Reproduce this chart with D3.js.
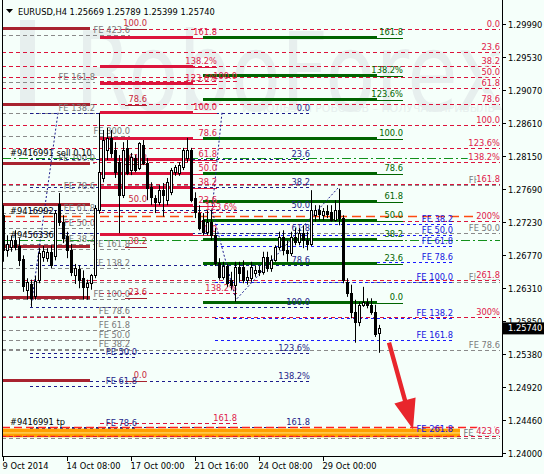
<!DOCTYPE html>
<html><head><meta charset="utf-8">
<script src="https://cdn.jsdelivr.net/npm/d3@7"></script>
<style>
html,body{margin:0;padding:0;background:#f5fffa;}
svg{display:block;}
</style></head><body>
<svg id="c" width="544" height="474"></svg>
<script>
// ---------------- DATA ----------------
const symbolTitle = "EURUSD,H4";
const open = [
1.2732,1.2683,1.2688,1.2697,1.2689,1.2671,1.2628,1.2636,1.2619,1.2642,
1.2674,1.2672,1.2681,1.2675,1.2748,1.2723,1.2703,1.2683,1.2649,1.2657,
1.2644,1.2632,1.2637,1.2649,1.2739,1.2784,1.2823,1.2840,1.2823,1.2806,
1.2760,1.2826,1.2795,1.2812,1.2798,1.2830,1.2805,1.2771,1.2756,1.2750,
1.2767,1.2753,1.2764,1.2792,1.2791,1.2799,1.2812,1.2823,1.2756,1.2735,
1.2725,1.2709,1.2723,1.2704,1.2665,1.2646,1.2661,1.2642,1.2635,1.2660,
1.2660,1.2642,1.2644,1.2651,1.2655,1.2653,1.2674,1.2658,1.2669,1.2688,
1.2702,1.2683,1.2679,1.2702,1.2695,1.2707,1.2697,1.2692,1.2732,1.2739,
1.2732,1.2738,1.2737,1.2725,1.2739,1.2728,1.2639,1.2623,1.2597,1.2583,
1.2607,1.2611,1.2607,1.2597,1.25669];
const high = [
1.2746,1.2704,1.2703,1.2711,1.2700,1.2676,1.2644,1.2642,1.2647,1.2686,
1.2689,1.2686,1.2690,1.2739,1.2763,1.2732,1.2709,1.2692,1.2664,1.2662,
1.2655,1.2642,1.2650,1.2746,1.2875,1.2851,1.2854,1.2851,1.2834,1.2816,
1.2834,1.2837,1.2819,1.2816,1.2834,1.2837,1.2812,1.2778,1.2760,1.2774,
1.2777,1.2784,1.2798,1.2802,1.2806,1.2826,1.2840,1.2826,1.2764,1.2746,
1.2735,1.2739,1.2739,1.2714,1.2672,1.2667,1.2664,1.2653,1.2667,1.2667,
1.2669,1.2655,1.2667,1.2662,1.2661,1.2681,1.2681,1.2676,1.2690,1.2709,
1.2711,1.2697,1.2709,1.2714,1.2714,1.2718,1.2709,1.2767,1.2746,1.2746,
1.2742,1.2746,1.2746,1.2753,1.2769,1.2732,1.2644,1.2635,1.2614,1.2611,
1.2632,1.2616,1.2616,1.2607,1.25789];
const low = [
1.2667,1.2674,1.2681,1.2683,1.2661,1.2625,1.2614,1.2604,1.2614,1.2637,
1.2667,1.2667,1.2658,1.2669,1.2717,1.2693,1.2672,1.2647,1.2636,1.2630,
1.2614,1.2614,1.2628,1.2644,1.2734,1.2778,1.2809,1.2812,1.2784,1.2707,
1.2756,1.2788,1.2788,1.2792,1.2795,1.2802,1.2753,1.2746,1.2735,1.2746,
1.2730,1.2746,1.2760,1.2787,1.2787,1.2795,1.2806,1.2750,1.2728,1.2711,
1.2704,1.2704,1.2697,1.2661,1.2642,1.2642,1.2632,1.2628,1.2611,1.2639,
1.2637,1.2635,1.2639,1.2646,1.2647,1.2649,1.2653,1.2653,1.2667,1.2683,
1.2676,1.2667,1.2675,1.2690,1.2690,1.2686,1.2683,1.2689,1.2723,1.2725,
1.2725,1.2728,1.2723,1.2723,1.2718,1.2637,1.2618,1.2588,1.2554,1.2577,
1.2604,1.2602,1.2593,1.2562,1.25399];
const close = [
1.2683,1.2692,1.2697,1.2688,1.2669,1.2633,1.2639,1.2616,1.2640,1.2679,
1.2682,1.2681,1.2662,1.2735,1.2723,1.2700,1.2683,1.2653,1.2658,1.2642,
1.2632,1.2637,1.2649,1.2742,1.2792,1.2837,1.2840,1.2819,1.2792,1.2760,
1.2823,1.2791,1.2813,1.2795,1.2833,1.2805,1.2770,1.2757,1.2750,1.2767,
1.2760,1.2778,1.2795,1.2799,1.2802,1.2823,1.2823,1.2753,1.2737,1.2714,
1.2709,1.2723,1.2704,1.2665,1.2646,1.2661,1.2637,1.2635,1.2660,1.2651,
1.2642,1.2646,1.2660,1.2655,1.2653,1.2674,1.2658,1.2669,1.2688,1.2702,
1.2683,1.2679,1.2702,1.2695,1.2707,1.2697,1.2692,1.2739,1.2739,1.2734,
1.2738,1.2734,1.2725,1.2739,1.2728,1.2642,1.2623,1.2597,1.2583,1.2607,
1.2611,1.2607,1.2597,1.2566,1.25740];

const priceTicks = [1.29990,1.29530,1.29070,1.28610,1.28150,1.27690,1.27230,1.26770,1.26310,1.25850,1.25380,1.24920,1.24460,1.24000];
const timeTickBars = [0,16,32,48,64,80];
const timeTickLabels = ["9 Oct 2014","14 Oct 08:00","17 Oct 00:00","21 Oct 16:00","24 Oct 08:00","29 Oct 00:00"];

// Fibonacci tools: [price at 0%, price at 100%], levels, labels, bar span
const crimsonFiboPrices = [1.2992, 1.2858];
const crimsonFiboLevels = [0,23.6,38.2,50,61.8,78.6,100,123.6,138.2,161.8,200,261.8,300,423.6];
const crimsonFiboLabels = ["0.0","23.6","38.2","50.0","61.8","78.6","100.0","123.6%","138.2%","161.8","200%","261.8","300%","423.6"];
const crimsonFiboBars = [-0.25, 124.25];

const redFiboPrices = [1.2706, 1.2876];
const redFiboLevels = [0,23.6,38.2,50,61.8,78.6,100,123.6,138.2,161.8];
const redFiboLabels = ["0.0","23.6","38.2","50.0","61.8","78.6","100.0","123.6%","138.2%","161.8"];
const redFiboBars = [24.25, 47.5, 47.5, 53.5];

const redExtPrices = [1.3692, 1.2919];
const redExtLevels = [100,123.6,138.2,161.8];
const redExtLabels = ["100.0","123.6%","138.2%","161.8"];
const redExtBars = [24.25, 58.5];

const brownFiboPrices = [1.2502, 1.2993];
const brownFiboLevels = [0,23.6,38.2,50,61.8,78.6,100];
const brownFiboLabels = ["0.0","23.6","38.2","50.0","61.8","78.6","100.0"];
const brownFiboBars = [-0.25, 21.75, 30.5, 36];

const navyFiboPrices = [1.2875, 1.2604];
const navyFiboLevels = [0,23.6,38.2,50,61.8,78.6,100,123.6,138.2,161.8];
const navyFiboLabels = ["0.0","23.6","38.2","50.0","61.8","78.6","100.0","123.6%","138.2%","161.8"];
const navyFiboBars = [6.75, 76.75];

const greenFiboPrices = [1.2611, 1.2840];
const greenFiboLevels = [0,23.6,38.2,50,61.8,78.6,100,123.6,138.2,161.8];
const greenFiboLabels = ["0.0","23.6","38.2","50.0","61.8","78.6","100.0","123.6%","138.2%","161.8"];
const greenFiboBars = [50, 93.5, 93.5, 100];

// Fibonacci expansions
const grayFe1Prices = [1.2622, 1.2805];
const grayFe1Levels = [38.2,50,61.8,78.6,100,138.2,161.8];
const grayFe1Bars = [-0.25, 23];
const grayFe2Prices = [1.2501, 1.2615];
const grayFe2Levels = [38.2,50,61.8,78.6,100,138.2,161.8,300,423.6];
const grayFe2Bars = [-0.25, 31.75];
const grayFe3Prices = [1.2992, 1.2421];
const grayFe3Levels = [38.2,50,61.8,78.6,100];
const grayFe3Bars = [-0.25, 124.25];
const blueFePrices = [1.2770, 1.2639];
const blueFeLevels = [38.2,50,61.8,78.6,100,138.2,161.8,261.8];
const blueFeBars = [53, 112.5];
const navyFePrices = [1.2707, 1.2361];
const navyFeLevels = [50,61.8,78.6];
const navyFeBars = [6.75, 33.5];

// order lines
const orderPrices = [1.2812, 1.2731, 1.2697, 1.2436];
const orderLabels = ["#9416991 sell 0.10", "#9416992", "#9456336", "#9416991 tp"];
const orderKinds = ["entry", "pending", "entry", "tp"];
const zonePrices = [1.2422, 1.2434];
const zoneBars = [-0.25, 114.25];

// tool trend lines [bar, price]
const trendA = [[13.75,1.2875],[7,1.2604]];
const trendB = [[54.75,1.2875],[52.25,1.2739],[58.25,1.2614],[83.75,1.2770]];
const arrowFrom = [96.5, 1.2554];
const arrowTo = [102.5, 1.2433];

// ---------------- DRAW ----------------
const FONT = "DejaVu Sans";
const FS = 8.3;
const bg = "#f5fffa";
const svg = d3.select("#c").attr("font-family", FONT);
svg.append("rect").attr("width",544).attr("height",474).attr("fill",bg);

const x = d3.scaleLinear().domain([0,124.75]).range([3,502]);
const y = d3.scaleLinear().domain([1.24000,1.29990]).range([453,24]);
const py = p => Math.round(y(p)) + 0.5;
const lvl = (a, L) => a[0] + (a[1]-a[0]) * L / 100;

// watermark
const wm = svg.append("g").attr("fill","#e7efee");
wm.append("rect").attr("x",20).attr("y",20).attr("width",15).attr("height",90);
wm.append("text").attr("x",75).attr("y",110).attr("font-size",108).attr("font-family",FONT)
  .attr("textLength",430).attr("lengthAdjust","spacingAndGlyphs").text("RoboForex");
wm.append("text").attr("x",242).attr("y",112).attr("font-size",11).attr("font-family",FONT)
  .attr("textLength",253).attr("lengthAdjust","spacingAndGlyphs").text("ИСПОЛЬЗУЙ РОБОТОВ – ПОЛУЧАЙ ПРИБЫЛЬ");

const gLines = svg.append("g");
const gLabels = svg.append("g").attr("font-size",FS);

function thinTool(anchor, levels, labels, bars, color, dash, labelColor, halo){
  levels.forEach((L,k)=>{
    const yy = py(lvl(anchor,L));
    gLines.append("line").attr("x1",x(bars[0])).attr("x2",x(bars[1])).attr("y1",yy).attr("y2",yy)
      .attr("stroke",color).attr("stroke-width",1).attr("stroke-dasharray",dash);
    if (labels) {
      const t = gLabels.append("text").attr("x",x(bars[1])).attr("y",yy-2.5).attr("text-anchor","end")
        .attr("fill",labelColor).text(labels[k]);
      if (halo) t.attr("stroke",bg).attr("stroke-width",3).attr("paint-order","stroke");
    }
  });
}
function thickTool(anchor, levels, labels, bars, color, labelColor){
  levels.forEach((L,k)=>{
    const yy = py(lvl(anchor,L));
    gLines.append("line").attr("x1",x(bars[0])).attr("x2",x(bars[1])).attr("y1",yy).attr("y2",yy)
      .attr("stroke",color).attr("stroke-width",3);
    gLines.append("line").attr("x1",x(bars[2])).attr("x2",x(bars[3])).attr("y1",yy+1).attr("y2",yy+1)
      .attr("stroke",color).attr("stroke-width",1);
    gLabels.append("text").attr("x",x(bars[3])).attr("y",yy-2.5).attr("text-anchor","end")
      .attr("fill",labelColor).text(labels[k]);
  });
}
const feLabels = lv => lv.map(L => "FE " + L.toFixed(1));

thinTool(grayFe3Prices, grayFe3Levels, feLabels(grayFe3Levels), grayFe3Bars, "#8a8a8a", "4,3", "#7a7a7a");
thinTool(grayFe2Prices, grayFe2Levels, feLabels(grayFe2Levels), grayFe2Bars, "#8a8a8a", "4,3", "#7a7a7a");
thinTool(grayFe1Prices, grayFe1Levels, feLabels(grayFe1Levels), grayFe1Bars, "#8a8a8a", "4,3", "#7a7a7a");
thinTool(navyFiboPrices, navyFiboLevels, navyFiboLabels, navyFiboBars, "#1c1c8c", "3,3", "#24248a");
thinTool(navyFePrices, navyFeLevels, feLabels(navyFeLevels), navyFeBars, "#1c1c8c", "3,3", "#24248a");
thinTool(blueFePrices, blueFeLevels, feLabels(blueFeLevels), blueFeBars, "#1a1aff", "3,3", "#1515e0");
thinTool(redExtPrices, redExtLevels, redExtLabels, redExtBars, "#dc143c", "4,3", "#e0204a");

orderPrices.forEach((p,k)=>{
  const yy = py(p), kind = orderKinds[k];
  const col = kind==="entry" ? "#12901a" : kind==="pending" ? "#ff4a10" : "#ff2020";
  const dash = kind==="entry" ? "9,3,2,3" : kind==="pending" ? "9,5" : "8,4";
  gLines.append("line").attr("x1",x(-0.25)).attr("x2",x(124.25)).attr("y1",yy).attr("y2",yy)
    .attr("stroke",col).attr("stroke-width", kind==="entry"?1:1.5).attr("stroke-dasharray",dash);
  gLabels.append("text").attr("x",x(1.75)).attr("y",yy-2.5).attr("fill","#000").text(orderLabels[k]);
});

const zTop = y(zonePrices[1]), zBot = y(zonePrices[0]);
gLines.append("rect").attr("x",x(zoneBars[0])).attr("width",x(zoneBars[1])-x(zoneBars[0]))
  .attr("y",zTop).attr("height",zBot-zTop).attr("fill","#ffa000");
gLines.append("line").attr("x1",x(zoneBars[0])).attr("x2",x(zoneBars[1])).attr("y1",(zTop+zBot)/2).attr("y2",(zTop+zBot)/2)
  .attr("stroke","#ffe680").attr("stroke-width",1);
gLines.append("line").attr("x1",x(zoneBars[0])).attr("x2",x(zoneBars[1])).attr("y1",zBot-1).attr("y2",zBot-1)
  .attr("stroke","#ff3000").attr("stroke-width",1).attr("stroke-dasharray","8,4");

thinTool(crimsonFiboPrices, crimsonFiboLevels, crimsonFiboLabels, crimsonFiboBars, "#dc143c", "4,3", "#e0204a", true);

thickTool(brownFiboPrices, brownFiboLevels, brownFiboLabels, brownFiboBars, "#a8232f", "#c8283c");
thickTool(redFiboPrices, redFiboLevels, redFiboLabels, redFiboBars, "#dc143c", "#e0204a");
thickTool(greenFiboPrices, greenFiboLevels, greenFiboLabels, greenFiboBars, "#006400", "#006400");

const ln = d3.line().x(d=>x(d[0])).y(d=>y(d[1]));
[trendA, trendB].forEach(t=>{
  gLines.append("path").attr("d",ln(t)).attr("fill","none").attr("stroke","#1c1c8c")
    .attr("stroke-width",1).attr("stroke-dasharray","2,2");
});

const gC = svg.append("g");
open.forEach((o,i)=>{
  const cx = Math.round(x(i)) + 0.5;
  const up = close[i] >= open[i];
  gC.append("line").attr("x1",cx).attr("x2",cx).attr("y1",y(high[i])).attr("y2",y(low[i]))
    .attr("stroke","#000").attr("stroke-width",1);
  const yt = Math.round(y(Math.max(o,close[i]))), yb = Math.round(y(Math.min(o,close[i])));
  if (up) {
    gC.append("rect").attr("x",cx-1).attr("y",yt+0.5).attr("width",2).attr("height",Math.max(1,yb-yt))
      .attr("fill","#fff").attr("stroke","#000").attr("stroke-width",1);
  } else {
    gC.append("rect").attr("x",cx-1.5).attr("y",yt).attr("width",3).attr("height",Math.max(1,yb-yt+1))
      .attr("fill","#000");
  }
});

{
  const x0 = x(arrowFrom[0]), y0 = y(arrowFrom[1]), x1 = x(arrowTo[0]), y1 = y(arrowTo[1]);
  const dx = x1-x0, dy = y1-y0, len = Math.hypot(dx,dy), ux = dx/len, uy = dy/len;
  const nx = uy, ny = -ux;
  const hl = 30, hw = 11, sw = 2.2;
  const bx = x1 - ux*hl, by = y1 - uy*hl;
  const pts = [
    [x0+nx*sw, y0+ny*sw],[bx+nx*sw, by+ny*sw],[bx+nx*hw, by+ny*hw],[x1,y1],
    [bx-nx*hw, by-ny*hw],[bx-nx*sw, by-ny*sw],[x0-nx*sw, y0-ny*sw]];
  svg.append("polygon").attr("points",pts.map(p=>p.join(",")).join(" ")).attr("fill","#e8262c");
}

const gA = svg.append("g").attr("font-size",FS).attr("fill","#000");
gA.append("line").attr("x1",2.5).attr("x2",2.5).attr("y1",0).attr("y2",456).attr("stroke","#000");
gA.append("line").attr("x1",502.5).attr("x2",502.5).attr("y1",0).attr("y2",457).attr("stroke","#000");
gA.append("line").attr("x1",2).attr("x2",503).attr("y1",456.5).attr("y2",456.5).attr("stroke","#000");
priceTicks.forEach(p=>{
  const yy = Math.round(y(p)) + 0.5;
  gA.append("line").attr("x1",502).attr("x2",506).attr("y1",yy).attr("y2",yy).attr("stroke","#000");
  gA.append("text").attr("x",508).attr("y",yy+3).text(p.toFixed(5));
});
timeTickBars.forEach((b,k)=>{
  const xx = Math.round(x(b)) + 0.5;
  gA.append("line").attr("x1",xx).attr("x2",xx).attr("y1",456).attr("y2",461).attr("stroke","#000");
  gA.append("text").attr("x",xx-1).attr("y",469).text(timeTickLabels[k]);
});
const lastY = y(close[close.length-1]);
gA.append("rect").attr("x",503).attr("y",lastY-6).attr("width",41).attr("height",12).attr("fill","#000");
gA.append("text").attr("x",508).attr("y",lastY+3).attr("fill","#fff").text(close[close.length-1].toFixed(5));

const n = open.length-1;
gA.append("polygon").attr("points","6,9 13,9 9.5,13").attr("fill","#000");
gA.append("text").attr("x",18).attr("y",15)
  .text(symbolTitle + " " + [open[n],high[n],low[n],close[n]].map(v=>v.toFixed(5)).join(" "));
</script>
</body></html>
